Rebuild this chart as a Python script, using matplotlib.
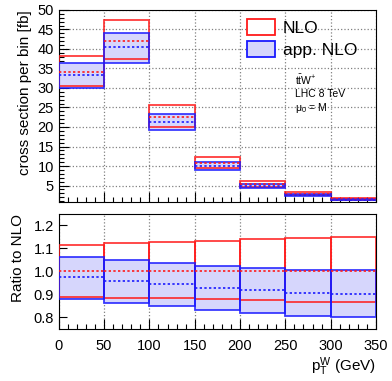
import matplotlib
matplotlib.use("Agg")
import matplotlib.pyplot as plt
from matplotlib.patches import Rectangle, Patch
import numpy as np

plt.rcParams['font.family'] = ['Liberation Sans', 'DejaVu Sans']
plt.rcParams['mathtext.fontset'] = 'custom'
plt.rcParams['mathtext.rm'] = 'Liberation Sans'
plt.rcParams['mathtext.it'] = 'Liberation Sans:italic'

bin_edges = [0, 50, 100, 150, 200, 250, 300, 350]
nlo_central = [34.2, 42.1, 22.6, 10.9, 5.3, 2.85, 1.5]
nlo_up_ratio = [1.117, 1.124, 1.129, 1.131, 1.142, 1.145, 1.149]
nlo_dn_ratio = [0.889, 0.886, 0.883, 0.880, 0.877, 0.869, 0.868]
app_up_ratio = [1.063, 1.049, 1.035, 1.022, 1.015, 1.005, 1.005]
app_dn_ratio = [0.880, 0.865, 0.848, 0.832, 0.820, 0.806, 0.800]
app_c_ratio = [0.974, 0.960, 0.944, 0.929, 0.919, 0.907, 0.902]

RED = (1.0, 0.1, 0.1)
BLUE = (0.1, 0.1, 1.0)
FILL = (0.84, 0.84, 0.99)

fig = plt.figure(figsize=(3.92, 3.81), dpi=100)
ax1 = fig.add_axes([0.150, 0.470, 0.809, 0.504])
ax2 = fig.add_axes([0.150, 0.1365, 0.809, 0.302])


def draw(ax, central, scale_center):
    for i in range(len(central)):
        x0, x1 = bin_edges[i], bin_edges[i + 1]
        w = x1 - x0
        c = central[i] if scale_center else 1.0
        nup, ndn = c * nlo_up_ratio[i], c * nlo_dn_ratio[i]
        aup, adn, ac = c * app_up_ratio[i], c * app_dn_ratio[i], c * app_c_ratio[i]
        ax.add_patch(Rectangle((x0, adn), w, aup - adn, facecolor=FILL,
                               edgecolor='none', zorder=2))
        ax.add_patch(Rectangle((x0, ndn), w, nup - ndn, facecolor='none',
                               edgecolor=RED, lw=1.3, alpha=0.85, zorder=3))
        ax.add_patch(Rectangle((x0, adn), w, aup - adn, facecolor='none',
                               edgecolor=BLUE, lw=1.3, alpha=0.85, zorder=4))
        ax.plot([x0, x1], [c, c], color=RED, lw=1.4, ls=(0, (1.2, 1.2)),
                alpha=0.85, zorder=5)
        ax.plot([x0, x1], [ac, ac], color=BLUE, lw=1.4, ls=(0, (1.2, 1.2)),
                alpha=0.85, zorder=5)


draw(ax1, nlo_central, True)
draw(ax2, nlo_central, False)

for ax in (ax1, ax2):
    ax.set_xlim(0, 350)
    ax.set_xticks(bin_edges)
    ax.set_xticks(np.arange(0, 351, 10), minor=True)
    ax.tick_params(which='both', direction='in', top=False, right=False,
                   labelsize=10.5, width=0.8)
    ax.tick_params(which='major', length=7)
    ax.tick_params(which='minor', length=3.5)
    for s in ax.spines.values():
        s.set_linewidth(0.8)
    ax.grid(True, axis='x', ls=':', color='0.5', lw=0.9)
    ax.set_axisbelow(True)

ax1.set_ylim(0.8, 50)
ax1.set_yticks(np.arange(5, 51, 5))
ax1.set_yticks(np.arange(1, 50, 1), minor=True)
ax1.grid(True, axis='y', ls=':', color='0.5', lw=0.9)
ax1.tick_params(labelbottom=False)
ax1.set_ylabel('cross section per bin [fb]', fontsize=11, labelpad=4, loc='top')

ax2.set_ylim(0.75, 1.25)
ax2.set_yticks([0.8, 0.9, 1.0, 1.1, 1.2])
ax2.set_yticklabels(['0.8', '0.9', '1.0', '1.1', '1.2'])
ax2.tick_params(axis='y', which='major', length=6)
ax2.set_ylabel('Ratio to NLO', fontsize=11, labelpad=6, loc='top')
ax2.set_xticklabels([str(v) for v in bin_edges])
ax2.tick_params(axis='x', pad=7)
ax2.set_xlabel(r'$\mathrm{p_T^W}$ (GeV)', fontsize=11, loc='right', labelpad=2)

# legend
h1 = Patch(facecolor='white', edgecolor=RED, lw=1.3, label='NLO')
h2 = Patch(facecolor=FILL, edgecolor=BLUE, lw=1.3, label='app. NLO')
ax1.legend(handles=[h1, h2], loc='upper left', bbox_to_anchor=(0.545, 1.035),
           frameon=False, fontsize=12.5, handlelength=1.6, handleheight=1.05,
           handletextpad=0.45, labelspacing=0.3)

ax1.text(0.745, 0.635, r'$\mathrm{t\bar{t}W^{+}}$', transform=ax1.transAxes,
         fontsize=7.5, va='center')
ax1.text(0.745, 0.562, 'LHC 8 TeV', transform=ax1.transAxes, fontsize=7.5,
         va='center')
ax1.text(0.745, 0.49, r'$\mathrm{\mu_0}$ = M', transform=ax1.transAxes,
         fontsize=7.5, va='center')

fig.savefig('out.png', dpi=100)
